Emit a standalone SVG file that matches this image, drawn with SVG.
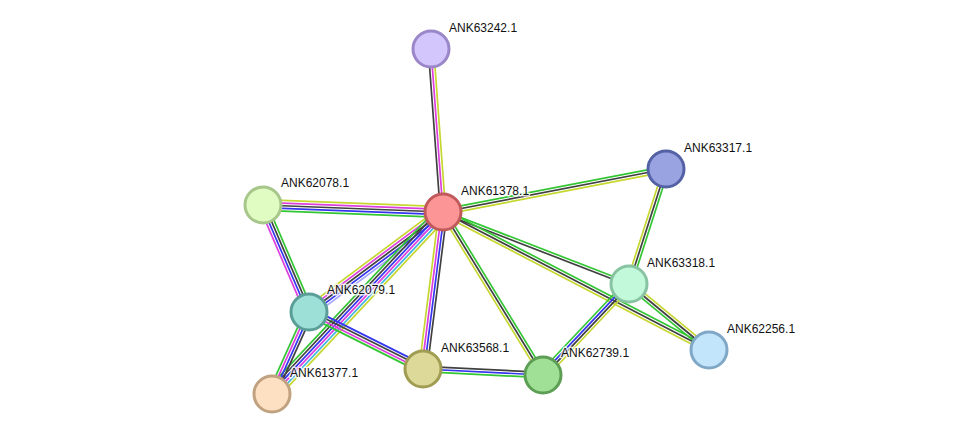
<svg xmlns="http://www.w3.org/2000/svg" width="976" height="440" viewBox="0 0 976 440">
<style>
line{stroke-width:1.7;fill:none}
.y{stroke:#c6d72f}.g{stroke:#33c633}.k{stroke:#404040}.m{stroke:#dd3fdd}.b{stroke:#3535f0}.c{stroke:#3db5e0}.l{stroke:#a5a5ff}
circle{stroke-width:3}
text{font-family:"Liberation Sans",Arial,sans-serif;font-size:12px;fill:#111;stroke:#fff;stroke-width:3;stroke-opacity:0.8;paint-order:stroke;stroke-linejoin:round}
</style>
<rect width="976" height="440" fill="#fff"/>
<g id="connectors">
<g id="e-A-B"><line class="k" x1="440.31" y1="212.2" x2="428.31" y2="49.2"/><line class="m" x1="443" y1="212" x2="431" y2="49"/><line class="y" x1="445.69" y1="211.8" x2="433.69" y2="48.8"/></g>
<g id="e-A-C"><line class="g" x1="442.49" y1="209.35" x2="665.49" y2="166.35"/><line class="k" x1="443" y1="212" x2="666" y2="169"/><line class="y" x1="443.51" y1="214.65" x2="666.51" y2="171.65"/></g>
<g id="e-A-D"><line class="y" x1="443.21" y1="206.6" x2="263.21" y2="199.6"/><line class="m" x1="443.1" y1="209.3" x2="263.1" y2="202.3"/><line class="k" x1="443" y1="212" x2="263" y2="205"/><line class="b" x1="442.9" y1="214.7" x2="262.9" y2="207.7"/><line class="g" x1="442.79" y1="217.4" x2="262.79" y2="210.4"/></g>
<g id="e-A-E"><line class="g" x1="443.49" y1="210.74" x2="629.49" y2="282.74"/><line class="k" x1="442.51" y1="213.26" x2="628.51" y2="285.26"/></g>
<g id="e-A-G"><line class="g" x1="444.24" y1="209.6" x2="710.24" y2="347.6"/><line class="k" x1="443" y1="212" x2="709" y2="350"/><line class="y" x1="441.76" y1="214.4" x2="707.76" y2="352.4"/></g>
<g id="e-A-I"><line class="y" x1="440.7" y1="213.41" x2="540.7" y2="376.41"/><line class="k" x1="443" y1="212" x2="543" y2="375"/><line class="g" x1="445.3" y1="210.59" x2="545.3" y2="373.59"/></g>
<g id="e-A-H"><line class="y" x1="438.98" y1="211.49" x2="418.98" y2="368.49"/><line class="m" x1="441.66" y1="211.83" x2="421.66" y2="368.83"/><line class="b" x1="444.34" y1="212.17" x2="424.34" y2="369.17"/><line class="k" x1="447.02" y1="212.51" x2="427.02" y2="369.51"/></g>
<g id="e-A-F"><line class="y" x1="439.77" y1="207.67" x2="305.77" y2="307.67"/><line class="m" x1="441.39" y1="209.84" x2="307.39" y2="309.84"/><line class="k" x1="443" y1="212" x2="309" y2="312"/><line class="b" x1="444.62" y1="214.16" x2="310.62" y2="314.16"/><line class="l" x1="446.23" y1="216.33" x2="312.23" y2="316.33"/></g>
<g id="e-A-J"><line class="g" x1="438.08" y1="207.38" x2="267.08" y2="389.38"/><line class="k" x1="440.05" y1="209.23" x2="269.05" y2="391.23"/><line class="b" x1="442.02" y1="211.08" x2="271.02" y2="393.08"/><line class="m" x1="443.98" y1="212.92" x2="272.98" y2="394.92"/><line class="c" x1="445.95" y1="214.77" x2="274.95" y2="396.77"/><line class="y" x1="447.92" y1="216.62" x2="276.92" y2="398.62"/></g>
<g id="e-D-F"><line class="m" x1="259.28" y1="206.6" x2="305.28" y2="313.6"/><line class="b" x1="261.76" y1="205.53" x2="307.76" y2="312.53"/><line class="k" x1="264.24" y1="204.47" x2="310.24" y2="311.47"/><line class="g" x1="266.72" y1="203.4" x2="312.72" y2="310.4"/></g>
<g id="e-F-J"><line class="g" x1="305.31" y1="310.33" x2="268.31" y2="392.33"/><line class="m" x1="307.77" y1="311.45" x2="270.77" y2="393.45"/><line class="b" x1="310.23" y1="312.55" x2="273.23" y2="394.55"/><line class="k" x1="312.69" y1="313.67" x2="275.69" y2="395.67"/></g>
<g id="e-F-H"><line class="b" x1="310.81" y1="308.38" x2="424.81" y2="365.38"/><line class="k" x1="309.6" y1="310.79" x2="423.6" y2="367.79"/><line class="m" x1="308.4" y1="313.21" x2="422.4" y2="370.21"/><line class="g" x1="307.19" y1="315.62" x2="421.19" y2="372.62"/></g>
<g id="e-H-I"><line class="k" x1="423.13" y1="366.3" x2="543.13" y2="372.3"/><line class="b" x1="423" y1="369" x2="543" y2="375"/><line class="g" x1="422.87" y1="371.7" x2="542.87" y2="377.7"/></g>
<g id="e-I-E"><line class="g" x1="540.06" y1="372.22" x2="626.06" y2="281.22"/><line class="b" x1="542.02" y1="374.07" x2="628.02" y2="283.07"/><line class="k" x1="543.98" y1="375.93" x2="629.98" y2="284.93"/><line class="y" x1="545.94" y1="377.78" x2="631.94" y2="286.78"/></g>
<g id="e-C-E"><line class="y" x1="663.43" y1="168.17" x2="626.43" y2="283.17"/><line class="k" x1="666" y1="169" x2="629" y2="284"/><line class="g" x1="668.57" y1="169.83" x2="631.57" y2="284.83"/></g>
<g id="e-E-G"><line class="y" x1="630.72" y1="281.92" x2="710.72" y2="347.92"/><line class="k" x1="629" y1="284" x2="709" y2="350"/><line class="g" x1="627.28" y1="286.08" x2="707.28" y2="352.08"/></g>
</g>
<g id="n-ANK63242"><circle cx="431" cy="49" r="18" fill="#d3c6fc" stroke="#9a86c9"/><text x="449" y="32">ANK63242.1</text></g>
<g id="n-ANK61378"><circle cx="443" cy="212" r="18" fill="#fc9696" stroke="#c15a5a"/><text x="461" y="195">ANK61378.1</text></g>
<g id="n-ANK63317"><circle cx="666" cy="169" r="18" fill="#9aa3e1" stroke="#5461a5"/><text x="684" y="152">ANK63317.1</text></g>
<g id="n-ANK62078"><circle cx="263" cy="205" r="18" fill="#e0fcc2" stroke="#a7c68a"/><text x="281" y="187">ANK62078.1</text></g>
<g id="n-ANK63318"><circle cx="629" cy="284" r="18" fill="#c2f9da" stroke="#88c4a1"/><text x="647" y="267">ANK63318.1</text></g>
<g id="n-ANK62079"><circle cx="309" cy="312" r="18" fill="#9ce0d7" stroke="#5b9e98"/><text x="327" y="294">ANK62079.1</text></g>
<g id="n-ANK62256"><circle cx="709" cy="350" r="18" fill="#c2e5fc" stroke="#80a8c6"/><text x="727" y="333">ANK62256.1</text></g>
<g id="n-ANK63568"><circle cx="423" cy="369" r="18" fill="#dcd999" stroke="#a09c52"/><text x="441" y="352">ANK63568.1</text></g>
<g id="n-ANK62739"><circle cx="543" cy="375" r="18" fill="#9fdf96" stroke="#5c9e54"/><text x="561" y="357">ANK62739.1</text></g>
<g id="n-ANK61377"><circle cx="272" cy="394" r="18" fill="#fde0c2" stroke="#c0a281"/><text x="290" y="377">ANK61377.1</text></g>
</svg>
